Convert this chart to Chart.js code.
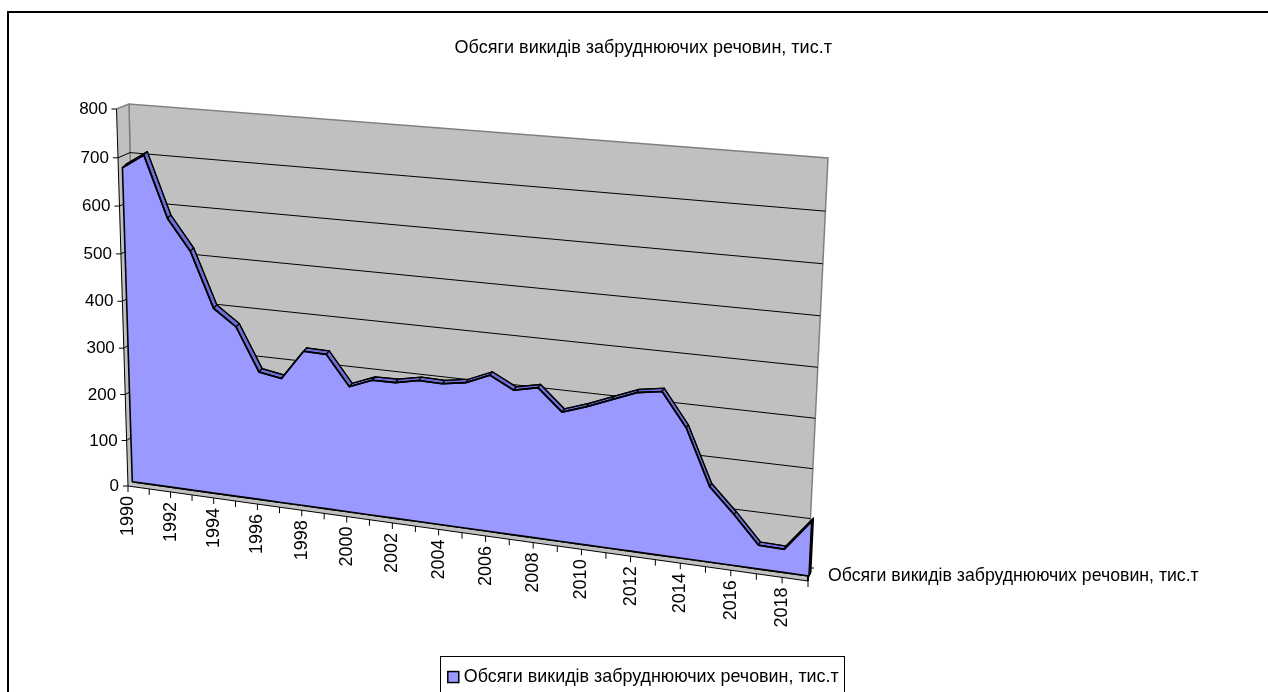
<!DOCTYPE html>
<html>
<head>
<meta charset="utf-8">
<style>
html, body { margin: 0; padding: 0; background: #fff; overflow: hidden; }
canvas { display: block; }
</style>
<script src="https://cdn.jsdelivr.net/npm/chart.js@4"></script>
</head>
<body>
<canvas id="myChart" width="1268" height="692"></canvas>
<script>
const seriesName = "Обсяги викидів забруднюючих речовин, тис.т";
const years = ["1990","1991","1992","1993","1994","1995","1996","1997","1998","1999","2000","2001","2002","2003","2004","2005","2006","2007","2008","2009","2010","2011","2012","2013","2014","2015","2016","2017","2018","2019"];
const emissions = [675,705,578,514,399,365,275,267,330,329,267,286,287,297,296,304,325,300,311,267,284,304,324,332,265,153,103,48,47,110];
const baseline = [0,0,0,0,0,0,0,0,0,0,0,0,0,0,0,0,0,0,0,0,0,0,0,0,0,0,0,0,0,0];
const valueTicks = [0,100,200,300,400,500,600,700,800];

const FONT = "Liberation Sans";

// corners of the 3d planes on screen: [bottom left, bottom right, top right, top left]
const planes = {
    axis:  [[128, 486], [808, 581], [826, 165], [116.5, 109]],
    wall:  [[137, 480], [808, 568], [828, 158], [129, 104]],
    front: [[132.3, 481.7], [809, 576], [829, 163], [120.5, 107]],
    back:  [[135.8, 478.2], [810.7, 572.7], [830.7, 159.7], [124, 103.5]],
};

// unit square -> quad
function makeHomography(q) {
    const [p0, p1, p2, p3] = q;
    const dx1 = p1[0] - p2[0], dx2 = p3[0] - p2[0], sx = p0[0] - p1[0] + p2[0] - p3[0];
    const dy1 = p1[1] - p2[1], dy2 = p3[1] - p2[1], sy = p0[1] - p1[1] + p2[1] - p3[1];
    const det = dx1 * dy2 - dx2 * dy1;
    const g = (sx * dy2 - dx2 * sy) / det;
    const h = (dx1 * sy - sx * dy1) / det;
    const a = p1[0] - p0[0] + g * p1[0], b = p3[0] - p0[0] + h * p3[0], c = p0[0];
    const d = p1[1] - p0[1] + g * p1[1], e = p3[1] - p0[1] + h * p3[1], f = p0[1];
    return (u, v) => {
        const w = g * u + h * v + 1;
        return { x: (a * u + b * v + c) / w, y: (d * u + e * v + f) / w };
    };
}
const project = {};
Object.keys(planes).forEach((k) => { project[k] = makeHomography(planes[k]); });

function toPlane(chart, name, px, py) {
    const area = chart.chartArea;
    const u = (px - area.left) / (area.right - area.left);
    const v = (area.bottom - py) / (area.bottom - area.top);
    return project[name](u, v);
}
function planePoint(chart, name, index, value) {
    return toPlane(chart, name, chart.scales.x.getPixelForValue(index), chart.scales.y.getPixelForValue(value));
}

function poly(ctx, pts, fill, stroke, width) {
    ctx.beginPath();
    pts.forEach((p, i) => (i ? ctx.lineTo(p.x, p.y) : ctx.moveTo(p.x, p.y)));
    ctx.closePath();
    if (fill) { ctx.fillStyle = fill; ctx.fill(); }
    if (stroke) { ctx.strokeStyle = stroke; ctx.lineWidth = width; ctx.stroke(); }
}
function seg(ctx, a, b, color, width) {
    ctx.beginPath();
    ctx.moveTo(a.x, a.y);
    ctx.lineTo(b.x, b.y);
    ctx.strokeStyle = color;
    ctx.lineWidth = width;
    ctx.stroke();
}

const area3d = {
    id: "area3d",
    beforeDraw(chart) {
        const ctx = chart.ctx;
        ctx.save();
        ctx.fillStyle = "#fff";
        ctx.fillRect(0, 0, 1268, 692);
        ctx.strokeStyle = "#000";
        ctx.lineWidth = 2;
        ctx.strokeRect(8, 12, 1300, 720);
        ctx.lineWidth = 1;
        ctx.strokeRect(440.5, 656.5, 404, 60);
        ctx.restore();
    },
    afterDatasetsUpdate(chart) {
        chart.data.datasets.forEach((ds, i) => {
            const name = ds.plane;
            chart.getDatasetMeta(i).data.forEach((pt) => {
                const p = toPlane(chart, name, pt.x, pt.y);
                pt.x = p.x;
                pt.y = p.y;
            });
        });
    },
    beforeDatasetsDraw(chart) {
        const ctx = chart.ctx;
        const last = years.length - 1;
        ctx.save();
        const wallBL = planePoint(chart, "wall", 0, 0), wallBR = planePoint(chart, "wall", last, 0);
        const wallTR = planePoint(chart, "wall", last, 800), wallTL = planePoint(chart, "wall", 0, 800);
        const axisBL = planePoint(chart, "axis", 0, 0), axisBR = planePoint(chart, "axis", last, 0);
        const axisTL = planePoint(chart, "axis", 0, 800);
        // back wall, side wall, floor
        poly(ctx, [wallBL, wallBR, wallTR, wallTL], "#C0C0C0", "#808080", 1.5);
        poly(ctx, [axisBL, wallBL, wallTL, axisTL], "#C0C0C0", null);
        seg(ctx, axisTL, wallTL, "#808080", 1.5);
        seg(ctx, wallTL, wallBL, "#808080", 1.5);
        poly(ctx, [axisBL, axisBR, wallBR, wallBL], "#C0C0C0", null);
        // gridlines
        valueTicks.forEach((v) => {
            if (v === 0 || v === 800) return;
            const a = planePoint(chart, "axis", 0, v);
            const b = planePoint(chart, "wall", 0, v);
            const c = planePoint(chart, "wall", last, v);
            seg(ctx, a, b, "#000", 1);
            seg(ctx, b, c, "#000", 1);
        });
        // axis lines and tick marks
        seg(ctx, axisTL, axisBL, "#000", 1);
        seg(ctx, axisBL, axisBR, "#000", 1);
        ctx.fillStyle = "#000";
        ctx.textAlign = "right";
        ctx.textBaseline = "middle";
        ctx.font = `17px "${FONT}"`;
        valueTicks.forEach((v) => {
            const a = planePoint(chart, "axis", 0, v);
            seg(ctx, { x: a.x - 5, y: a.y }, a, "#000", 1);
            ctx.fillText(String(v), a.x - 9, a.y + 0.5);
        });
        ctx.font = `18px "${FONT}"`;
        years.forEach((year, i) => {
            const a = planePoint(chart, "axis", i, 0);
            seg(ctx, a, { x: a.x, y: a.y + 6 }, "#000", 1);
            if (i % 2 === 0) {
                ctx.save();
                ctx.translate(a.x, a.y + 10);
                ctx.rotate(-Math.PI / 2);
                ctx.fillText(year, 0, 0);
                ctx.restore();
            }
        });
        // depth axis at the end of the floor
        seg(ctx, axisBR, wallBR, "#000", 2);
        seg(ctx, wallBR, { x: wallBR.x + 6, y: wallBR.y }, "#000", 1);
        ctx.textAlign = "left";
        ctx.font = `17.7px "${FONT}"`;
        ctx.fillText(seriesName, axisBR.x + 20, axisBR.y - 5);
        ctx.restore();
    },
    beforeDatasetDraw(chart, args) {
        const ctx = chart.ctx;
        const front = chart.getDatasetMeta(0).data;
        const base = chart.getDatasetMeta(1).data;
        const back = chart.getDatasetMeta(2).data;
        ctx.save();
        ctx.lineJoin = "round";
        if (args.index === 2) {
            // top face, one quad per year
            for (let i = 0; i < back.length - 1; i++) {
                poly(ctx, [front[i], front[i + 1], back[i + 1], back[i]], "#6E6ED6", "#000", 1.2);
            }
            const n = back.length - 1;
            poly(ctx, [front[n], back[n], planePoint(chart, "back", n, 0), base[n]], "#6E6ED6", "#000", 1.5);
        }
        if (args.index === 0) {
            poly(ctx, front.concat(base.slice().reverse()), "#9999FF", "#000", 1.6);
        }
        ctx.restore();
    },
    afterDraw(chart) {
        // legend swatch sits closer to its text than the library puts it
        const ctx = chart.ctx;
        const hit = chart.legend.legendHitBoxes[0];
        ctx.save();
        ctx.fillStyle = "#9999FF";
        ctx.strokeStyle = "#000";
        ctx.lineWidth = 1.5;
        ctx.fillRect(hit.left, hit.top + hit.height / 2 - 5.5, 11, 11);
        ctx.strokeRect(hit.left, hit.top + hit.height / 2 - 5.5, 11, 11);
        ctx.restore();
    },
};

new Chart(document.getElementById("myChart"), {
    type: "line",
    data: {
        labels: years,
        datasets: [
            { label: seriesName, data: emissions, plane: "front", order: 0, backgroundColor: "#9999FF", borderColor: "#000", borderWidth: 1.6, pointRadius: 0, tension: 0, clip: false },
            { label: "base", data: baseline, plane: "front", order: 1, borderColor: "#000", borderWidth: 1.6, pointRadius: 0, tension: 0, clip: false },
            { label: "back", data: emissions, plane: "back", order: 2, borderColor: "#000", borderWidth: 1.2, pointRadius: 0, tension: 0, clip: false },
        ],
    },
    plugins: [area3d],
    options: {
        responsive: false,
        animation: false,
        events: [],
        layout: { padding: { top: 12, left: 18.5, right: 0, bottom: -4 } },
        scales: {
            x: { display: false, offset: false },
            y: { display: false, min: 0, max: 800 },
        },
        plugins: {
            tooltip: { enabled: false },
            title: {
                display: true,
                text: seriesName,
                color: "#000",
                font: { family: FONT, size: 18, weight: "normal" },
                padding: { top: 25, bottom: 10 },
            },
            legend: {
                position: "bottom",
                labels: {
                    color: "#000",
                    font: { family: FONT, size: 17.9 },
                    boxWidth: 7,
                    boxHeight: 11,
                    padding: 6,
                    filter: (item) => {
                        item.fillStyle = "transparent";
                        item.strokeStyle = "transparent";
                        item.lineWidth = 0;
                        return item.datasetIndex === 0;
                    },
                },
            },
        },
    },
});
</script>
</body>
</html>
